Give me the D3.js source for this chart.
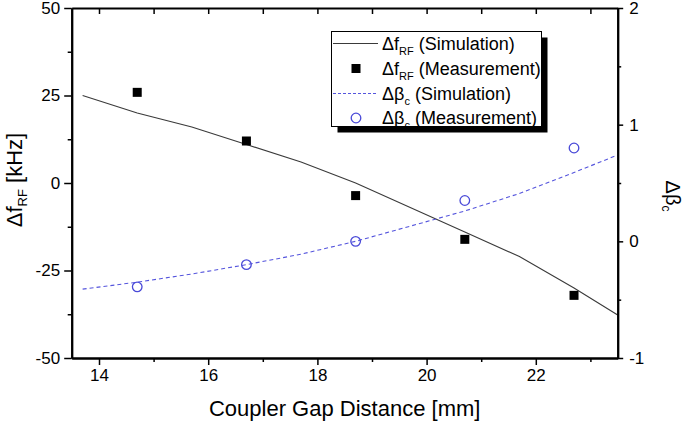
<!DOCTYPE html>
<html>
<head>
<meta charset="utf-8">
<script src="https://cdn.jsdelivr.net/npm/d3@7"></script>
<style>
  html, body { margin: 0; padding: 0; background: #fff; }
  svg { display: block; font-family: "Liberation Sans", Arial, sans-serif; }
</style>
</head>
<body>
<svg id="chart" width="685" height="421"></svg>
<script>
// ---- data ----
const simGap    = [13.7, 14.7, 15.7, 16.7, 17.7, 18.7, 19.7, 20.7, 21.7, 22.7, 23.5];
const simDf     = [25, 20, 16, 11, 6, 0, -7, -14, -21, -30, -37.7];
const simDbeta  = [-0.41, -0.35, -0.28, -0.2, -0.11, 0.0, 0.13, 0.26, 0.41, 0.59, 0.74];
const measGap   = [14.7, 16.7, 18.7, 20.7, 22.7];
const measDf    = [25.9, 12, -3.6, -16.1, -32.1];
const measDbeta = [-0.39, -0.2, 0.0, 0.35, 0.8];
const xMajor = [14, 16, 18, 20, 22];
const xMinor = [15, 17, 19, 21, 23];
const xTop   = [14, 15, 16, 17, 18, 19, 20, 21, 22, 23];
const yLeftMajor = [-50, -25, 0, 25, 50];
const yLeftMinor = [-37.5, -12.5, 12.5, 37.5];
const yRightMajor = [-1, 0, 1, 2];
const yRightMinor = [-0.5, 0.5, 1.5];

// ---- layout ----
const L = 71.7, R = 617.7, T = 8, B = 358;
const svg = d3.select("#chart");
const x = d3.scaleLinear().domain([13.5, 23.5]).range([L, R]);
const yL = d3.scaleLinear().domain([-50, 50]).range([B, T]);
const yR = d3.scaleLinear().domain([-1, 2]).range([B, T]);
const fmt = d => String(d);

// ---- series ----
const simF = simGap.map((g, i) => ({g, v: simDf[i]}));
const simB = simGap.map((g, i) => ({g, v: simDbeta[i]}));

svg.append("path").datum(simF)
  .attr("fill", "none").attr("stroke", "#3a3a3a").attr("stroke-width", 1.1)
  .attr("d", d3.line().x(d => x(d.g)).y(d => yL(d.v)));

svg.append("path").datum(simB)
  .attr("fill", "none").attr("stroke", "#5555dd").attr("stroke-width", 1.1)
  .attr("stroke-dasharray", "4,3")
  .attr("d", d3.line().x(d => x(d.g)).y(d => yR(d.v)));

const sq = 9;
svg.selectAll("rect.mf").data(measGap).join("rect").attr("class", "mf")
  .attr("x", (g) => x(g) - sq / 2)
  .attr("y", (g, i) => yL(measDf[i]) - sq / 2)
  .attr("width", sq).attr("height", sq).attr("fill", "#000");

svg.selectAll("circle.mb").data(measGap).join("circle").attr("class", "mb")
  .attr("cx", g => x(g))
  .attr("cy", (g, i) => yR(measDbeta[i]))
  .attr("r", 4.8).attr("fill", "none").attr("stroke", "#4a4ad8").attr("stroke-width", 1.3);

// ---- axes ----
function styleAxis(g, fs) {
  g.select(".domain").attr("stroke", "#000").attr("stroke-width", 2);
  g.selectAll(".tick line").attr("stroke", "#000").attr("stroke-width", 1.5);
  g.selectAll(".tick text").attr("fill", "#000").style("font-size", fs + "px")
    .style("font-family", '"Liberation Sans", Arial, sans-serif');
}
// bottom
const gb = svg.append("g").attr("transform", `translate(0,${B})`)
  .call(d3.axisBottom(x).tickValues(xMajor).tickFormat(fmt).tickSize(7).tickSizeOuter(0).tickPadding(4));
styleAxis(gb, 17);
const gbm = svg.append("g").attr("transform", `translate(0,${B})`)
  .call(d3.axisBottom(x).tickValues(xMinor).tickFormat("").tickSize(4).tickSizeOuter(0));
styleAxis(gbm, 17);
// top
const gt = svg.append("g").attr("transform", `translate(0,${T})`)
  .call(d3.axisTop(x).tickValues(xTop).tickFormat("").tickSize(-6).tickSizeOuter(0));
styleAxis(gt, 17);
// left
const gl = svg.append("g").attr("transform", `translate(${L},0)`)
  .call(d3.axisLeft(yL).tickValues(yLeftMajor).tickFormat(fmt).tickSize(7.5).tickSizeOuter(0).tickPadding(4));
styleAxis(gl, 17);
const glm = svg.append("g").attr("transform", `translate(${L},0)`)
  .call(d3.axisLeft(yL).tickValues(yLeftMinor).tickFormat("").tickSize(4).tickSizeOuter(0));
styleAxis(glm, 17);
// right
const gr = svg.append("g").attr("transform", `translate(${R},0)`)
  .call(d3.axisRight(yR).tickValues(yRightMajor).tickFormat(fmt).tickSize(5.5).tickSizeOuter(0).tickPadding(6));
styleAxis(gr, 17);
const grm = svg.append("g").attr("transform", `translate(${R},0)`)
  .call(d3.axisRight(yR).tickValues(yRightMinor).tickFormat("").tickSize(3.5).tickSizeOuter(0));
styleAxis(grm, 17);

// ---- titles ----
svg.append("text").attr("x", (L + R) / 2).attr("y", 416)
  .attr("text-anchor", "middle").style("font-size", "22px").attr("fill", "#000")
  .text("Coupler Gap Distance [mm]");

const lt = svg.append("text").attr("transform", `translate(22,${180}) rotate(-90)`)
  .attr("text-anchor", "middle").style("font-size", "22px").attr("fill", "#000");
lt.append("tspan").text("Δf");
lt.append("tspan").text("RF").style("font-size", "13px").attr("dy", 5);
lt.append("tspan").text(" [kHz]").attr("dy", -5);

const rt = svg.append("text").attr("transform", `translate(666,${196}) rotate(90)`)
  .attr("text-anchor", "middle").style("font-size", "20px").attr("fill", "#000");
rt.append("tspan").text("Δβ");
rt.append("tspan").text("c").style("font-size", "12px").attr("dy", 4);

// ---- legend ----
const lg = svg.append("g");
const bx = 331.5, by = 31.5, bw = 210, bh = 95;
lg.append("rect").attr("x", bx + 6).attr("y", by + 6).attr("width", bw).attr("height", bh).attr("fill", "#000");
lg.append("rect").attr("x", bx).attr("y", by).attr("width", bw).attr("height", bh)
  .attr("fill", "#fff").attr("stroke", "#000").attr("stroke-width", 1);
const rows = [
  {sym: "line", main: "Δf", sub: "RF", rest: " (Simulation)"},
  {sym: "square", main: "Δf", sub: "RF", rest: " (Measurement)"},
  {sym: "dash", main: "Δβ", sub: "c", rest: " (Simulation)"},
  {sym: "circle", main: "Δβ", sub: "c", rest: " (Measurement)"}
];
const rowY = [43.5, 68.5, 93.5, 118];
rows.forEach((r, i) => {
  const cy = rowY[i];
  if (r.sym === "line") lg.append("line").attr("x1", 333).attr("x2", 378).attr("y1", cy).attr("y2", cy)
    .attr("stroke", "#3a3a3a").attr("stroke-width", 1.1);
  if (r.sym === "dash") lg.append("line").attr("x1", 333).attr("x2", 378).attr("y1", cy).attr("y2", cy)
    .attr("stroke", "#5555dd").attr("stroke-width", 1.1).attr("stroke-dasharray", "3,2");
  if (r.sym === "square") lg.append("rect").attr("x", 356 - 4.5).attr("y", cy - 4.5).attr("width", 9).attr("height", 9).attr("fill", "#000");
  if (r.sym === "circle") lg.append("circle").attr("cx", 356).attr("cy", cy).attr("r", 4.8)
    .attr("fill", "none").attr("stroke", "#4a4ad8").attr("stroke-width", 1.3);
  const t = lg.append("text").attr("x", 382).attr("y", cy + 6).style("font-size", "18px").attr("fill", "#000");
  t.append("tspan").text(r.main);
  t.append("tspan").text(r.sub).style("font-size", "11px").attr("dy", 5);
  t.append("tspan").text(r.rest).attr("dy", -5);
});
</script>
</body>
</html>
